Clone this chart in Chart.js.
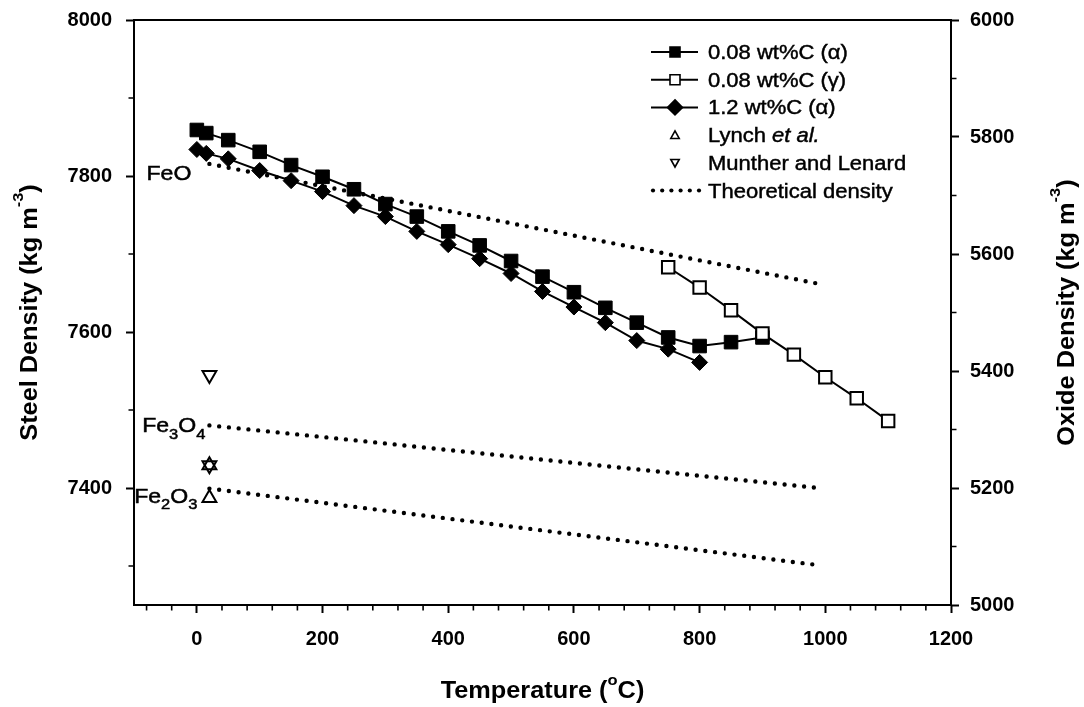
<!DOCTYPE html>
<html>
<head>
<meta charset="utf-8">
<title>Steel and oxide density vs temperature</title>
<script src="https://cdn.jsdelivr.net/npm/chart.js@4.4.1/dist/chart.umd.min.js"></script>
<style>
  html, body { margin: 0; padding: 0; background: #fff; }
  #wrap { width: 1084px; height: 707px; position: relative; }
</style>
</head>
<body>
<div id="wrap"><canvas id="chart"></canvas></div>
<script>
const FONT = '"Liberation Sans", Arial, Helvetica, sans-serif';

// 0.08 wt%C steel, ferrite range
const tempAlpha = [0, 15, 50, 100, 150, 200, 250, 300, 350, 400, 450, 500, 550, 600, 650, 700, 750, 800, 850, 900];
const densAlpha = [7859, 7855, 7846, 7831, 7814, 7799, 7783, 7764, 7748, 7729, 7711, 7691, 7671, 7651, 7631, 7612, 7593, 7582, 7587, 7593];

// 0.08 wt%C steel, austenite range
const tempGamma = [750, 800, 850, 900, 950, 1000, 1050, 1100];
const densGamma = [7683, 7657, 7628, 7598, 7571, 7542, 7515, 7486];

// 1.2 wt%C steel, ferrite range
const tempHighC = [0, 15, 50, 100, 150, 200, 250, 300, 350, 400, 450, 500, 550, 600, 650, 700, 750, 800];
const densHighC = [7834, 7829, 7822, 7807, 7794, 7780, 7762, 7748, 7729, 7712, 7694, 7675, 7652, 7632, 7612, 7589, 7578, 7561];

// Measured oxide densities (room temperature)
const tempLynch = [20, 20];
const densLynch = [5239, 5183];
const tempMunther = [20, 20];
const densMunther = [5393, 5239];

// Theoretical oxide densities
const tempTheory = [20, 990];
const densFeO = [5754, 5549];
const densFe3O4 = [5307, 5200];
const densFe2O3 = [5199, 5068];

// Axis ticks
const tempTicks = [0, 200, 400, 600, 800, 1000, 1200];
const steelTicks = [7400, 7600, 7800, 8000];
const oxideTicks = [5000, 5200, 5400, 5600, 5800, 6000];

const seriesLabels = ['0.08 wt%C (α)', '0.08 wt%C (γ)', '1.2 wt%C (α)', 'Lynch et al.', 'Munther and Lenard', 'Theoretical density'];

const pts = (xs, ys) => xs.map((x, i) => ({ x: x, y: ys[i] }));

// Text with super/subscripts, stretched slightly along the baseline
function richText(ctx, parts, x, y, o) {
  const size = o.size, weight = o.weight || 'normal', align = o.align || 'left';
  const stretch = o.stretch || 1.1;
  const fontFor = p => (p.style || 'normal') + ' ' + weight + ' ' +
    (p.s ? Math.round(size * (p.scale || 0.65)) : size) + 'px ' + FONT;
  let total = 0;
  const ws = parts.map(p => { ctx.font = fontFor(p); const w = ctx.measureText(p.t).width; total += w; return w; });
  ctx.save();
  ctx.translate(x, y);
  ctx.scale(stretch, 1);
  let cx = align === 'center' ? -total / 2 : (align === 'right' ? -total : 0);
  ctx.textAlign = 'left';
  ctx.textBaseline = 'alphabetic';
  ctx.fillStyle = '#000';
  ctx.strokeStyle = '#000';
  ctx.lineWidth = o.heavy || 0;
  parts.forEach((p, i) => {
    ctx.font = fontFor(p);
    const dy = p.s === 'sup' ? -size * (p.rise || 0.5) : (p.s === 'sub' ? size * (p.drop || 0.28) : 0);
    ctx.fillText(p.t, cx, dy);
    if (o.heavy) ctx.strokeText(p.t, cx, dy);
    cx += ws[i];
  });
  ctx.restore();
}

function marker(ctx, kind, x, y, r, fill) {
  ctx.save();
  ctx.fillStyle = fill;
  ctx.strokeStyle = '#000';
  ctx.lineWidth = 1.6;
  ctx.beginPath();
  if (kind === 'rect') {
    ctx.rect(x - r, y - r, 2 * r, 2 * r);
  } else if (kind === 'diamond') {
    ctx.moveTo(x, y - r); ctx.lineTo(x + r, y); ctx.lineTo(x, y + r); ctx.lineTo(x - r, y);
    ctx.closePath();
  } else if (kind === 'up') {
    ctx.moveTo(x, y - r); ctx.lineTo(x + r, y + r * 0.8); ctx.lineTo(x - r, y + r * 0.8);
    ctx.closePath();
  } else if (kind === 'down') {
    ctx.moveTo(x, y + r); ctx.lineTo(x + r, y - r * 0.8); ctx.lineTo(x - r, y - r * 0.8);
    ctx.closePath();
  }
  ctx.fill();
  ctx.stroke();
  ctx.restore();
}

const decorPlugin = {
  id: 'decor',
  afterDraw(chart) {
    const ctx = chart.ctx;
    const a = chart.chartArea;
    const sx = chart.scales.x, sy = chart.scales.y, s2 = chart.scales.y2;

    ctx.save();
    ctx.strokeStyle = '#000';
    ctx.lineWidth = 2;
    // top frame line
    ctx.beginPath();
    ctx.moveTo(a.left - 1, a.top);
    ctx.lineTo(a.right + 1, a.top);
    ctx.stroke();

    // minor ticks
    ctx.lineWidth = 1.6;
    const minor = 5.5;
    ctx.beginPath();
    for (let v = -80; v < 1200; v += 40) {
      if (v % 200 === 0) continue;
      const px = sx.getPixelForValue(v);
      ctx.moveTo(px, a.bottom); ctx.lineTo(px, a.bottom + minor);
    }
    for (let v = 7300; v < 8000; v += 200) {
      const py = sy.getPixelForValue(v);
      ctx.moveTo(a.left, py); ctx.lineTo(a.left - minor, py);
    }
    for (let v = 5100; v < 6000; v += 200) {
      const py = s2.getPixelForValue(v);
      ctx.moveTo(a.right, py); ctx.lineTo(a.right + minor, py);
    }
    ctx.stroke();
    ctx.restore();

    // axis titles
    const midY = (a.top + a.bottom) / 2;
    richText(ctx, [{ t: 'Temperature (' }, { t: 'o', s: 'sup', rise: 0.55 }, { t: 'C)' }],
      (a.left + a.right) / 2, 698, { size: 23, weight: 'bold', align: 'center' });

    ctx.save();
    ctx.translate(37, midY);
    ctx.rotate(-Math.PI / 2);
    richText(ctx, [{ t: 'Steel Density (kg m' }, { t: '-3', s: 'sup', rise: 0.62 }, { t: ')' }],
      0, 0, { size: 23, weight: 'bold', align: 'center' });
    ctx.restore();

    ctx.save();
    ctx.translate(1074, midY);
    ctx.rotate(-Math.PI / 2);
    richText(ctx, [{ t: 'Oxide Density (kg m' }, { t: '-3', s: 'sup', rise: 0.62 }, { t: ')' }],
      0, 0, { size: 23, weight: 'bold', align: 'center' });
    ctx.restore();

    // oxide labels at the start of each theoretical line
    const x0 = sx.getPixelForValue(tempTheory[0]);
    richText(ctx, [{ t: 'FeO' }], x0 - 18, s2.getPixelForValue(densFeO[0]) + 16,
      { size: 21, align: 'right', heavy: 0.5 });
    richText(ctx, [{ t: 'Fe' }, { t: '3', s: 'sub', scale: 0.7, drop: 0.3 }, { t: 'O' }, { t: '4', s: 'sub', scale: 0.7, drop: 0.3 }],
      x0 - 4, s2.getPixelForValue(densFe3O4[0]) + 7, { size: 21, align: 'right', heavy: 0.5 });
    richText(ctx, [{ t: 'Fe' }, { t: '2', s: 'sub', scale: 0.7, drop: 0.3 }, { t: 'O' }, { t: '3', s: 'sub', scale: 0.7, drop: 0.3 }],
      x0 - 12, s2.getPixelForValue(densFe2O3[0]) + 14, { size: 21, align: 'right', heavy: 0.5 });

    // legend
    const lx0 = a.right - 300, lx1 = a.right - 253, mx = a.right - 276, tx = a.right - 243;
    const rowY = i => a.top + 32 + i * 27.7;
    ctx.save();
    ctx.strokeStyle = '#000';
    ctx.lineWidth = 2;
    for (let i = 0; i < 3; i++) {
      ctx.beginPath();
      ctx.moveTo(lx0, rowY(i)); ctx.lineTo(lx1, rowY(i));
      ctx.stroke();
    }
    ctx.restore();
    marker(ctx, 'rect', mx, rowY(0), 5, '#000');
    marker(ctx, 'rect', mx, rowY(1), 5, '#fff');
    marker(ctx, 'diamond', mx, rowY(2), 7.5, '#000');
    marker(ctx, 'up', mx, rowY(3), 4.2, '#fff');
    marker(ctx, 'down', mx, rowY(4), 4.2, '#fff');
    ctx.save();
    ctx.fillStyle = '#000';
    for (let k = 0; k < 6; k++) {
      ctx.beginPath();
      ctx.arc(lx0 + 2 + k * 9.2, rowY(5), 2.1, 0, Math.PI * 2);
      ctx.fill();
    }
    ctx.restore();
    seriesLabels.forEach((lab, i) => {
      let parts = [{ t: lab }];
      const k = lab.indexOf('et al.');
      if (k >= 0) parts = [{ t: lab.slice(0, k) }, { t: 'et al.', style: 'italic' }];
      richText(ctx, parts, tx, rowY(i) + 7, { size: 20, heavy: 0.45 });
    });
  }
};

const tickFont = { family: FONT, size: 20, weight: 'bold' };
const fixTicks = vals => scale => { scale.ticks = vals.map(v => ({ value: v })); };
const axisGrid = { drawOnChartArea: false, drawTicks: true, tickLength: 8, tickWidth: 2, color: '#000', tickColor: '#000' };
const axisBorder = { display: true, color: '#000', width: 2 };
const fitY = w => s => { s.width = w; s.paddingTop = 0; s.paddingBottom = 0; };

const dotted = (data) => ({
  data: data, yAxisID: 'y2', showLine: true, pointRadius: 0,
  borderColor: '#000', borderWidth: 4.4, borderDash: [0, 9.8], borderCapStyle: 'round',
  fill: false, order: 10
});

new Chart(document.getElementById('chart'), {
  type: 'scatter',
  data: {
    datasets: [
      {
        label: seriesLabels[0], data: pts(tempAlpha, densAlpha), yAxisID: 'y', showLine: true,
        borderColor: '#000', borderWidth: 2, pointStyle: 'rect', pointRadius: 9.6,
        pointBackgroundColor: '#000', pointBorderColor: '#000', pointBorderWidth: 1, order: 2
      },
      {
        label: seriesLabels[1], data: pts(tempGamma, densGamma), yAxisID: 'y', showLine: true,
        borderColor: '#000', borderWidth: 2, pointStyle: 'rect', pointRadius: 8.8,
        pointBackgroundColor: '#fff', pointBorderColor: '#000', pointBorderWidth: 2, order: 1
      },
      {
        label: seriesLabels[2], data: pts(tempHighC, densHighC), yAxisID: 'y', showLine: true,
        borderColor: '#000', borderWidth: 2, pointStyle: 'rectRot', pointRadius: 8,
        pointBackgroundColor: '#000', pointBorderColor: '#000', pointBorderWidth: 1, order: 3
      },
      {
        label: seriesLabels[3], data: pts(tempLynch, densLynch), yAxisID: 'y2', showLine: false,
        pointStyle: 'triangle', pointRadius: 8, pointBackgroundColor: 'rgba(0,0,0,0)',
        pointBorderColor: '#000', pointBorderWidth: 2, order: 4
      },
      {
        label: seriesLabels[4], data: pts(tempMunther, densMunther), yAxisID: 'y2', showLine: false,
        pointStyle: 'triangle', pointRotation: 180, pointRadius: 8, pointBackgroundColor: 'rgba(0,0,0,0)',
        pointBorderColor: '#000', pointBorderWidth: 2, order: 4
      },
      Object.assign({ label: seriesLabels[5] }, dotted(pts(tempTheory, densFeO))),
      Object.assign({ label: seriesLabels[5] + ' Fe3O4' }, dotted(pts(tempTheory, densFe3O4))),
      Object.assign({ label: seriesLabels[5] + ' Fe2O3' }, dotted(pts(tempTheory, densFe2O3)))
    ]
  },
  options: {
    responsive: true,
    maintainAspectRatio: false,
    animation: false,
    events: [],
    layout: { padding: { top: 20, left: 0, right: 0, bottom: 0 } },
    plugins: { legend: { display: false }, tooltip: { enabled: false }, title: { display: false } },
    scales: {
      x: {
        type: 'linear', position: 'bottom', min: -100, max: 1200,
        afterBuildTicks: fixTicks(tempTicks),
        afterFit: s => { s.height = 102; s.paddingLeft = 0; s.paddingRight = 0; },
        grid: axisGrid, border: axisBorder,
        ticks: { font: tickFont, color: '#000', padding: 14, maxRotation: 0, autoSkip: false, callback: v => String(v) }
      },
      y: {
        type: 'linear', position: 'left', min: 7250, max: 8000,
        afterBuildTicks: fixTicks(steelTicks),
        afterFit: fitY(134),
        grid: axisGrid, border: axisBorder,
        ticks: { font: tickFont, color: '#000', padding: 14, autoSkip: false, callback: v => String(v) }
      },
      y2: {
        type: 'linear', position: 'right', min: 5000, max: 6000,
        afterBuildTicks: fixTicks(oxideTicks),
        afterFit: fitY(133),
        grid: axisGrid, border: axisBorder,
        ticks: { font: tickFont, color: '#000', padding: 11, autoSkip: false, callback: v => String(v) }
      }
    }
  },
  plugins: [decorPlugin]
});
</script>
</body>
</html>
